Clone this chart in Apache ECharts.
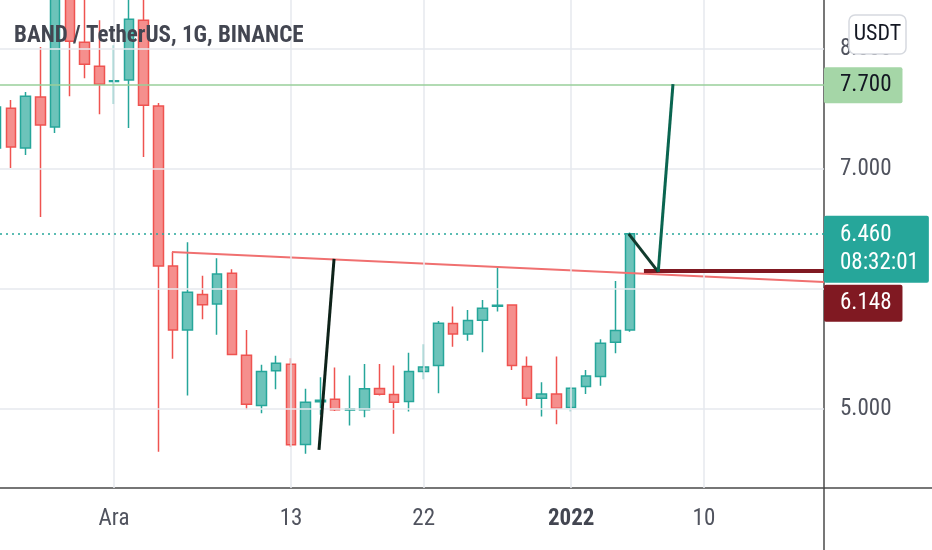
<!DOCTYPE html>
<html>
<head>
<meta charset="utf-8">
<script src="https://cdn.jsdelivr.net/npm/echarts@6/dist/echarts.min.js"></script>
<style>html,body{margin:0;padding:0;background:#fff}#c{width:932px;height:550px}</style>
</head>
<body>
<div id="c"></div>
<script>
// ---- data ----
const dates = ['2021-11-23','2021-11-24','2021-11-25','2021-11-26','2021-11-27','2021-11-28','2021-11-29','2021-11-30',
  '2021-12-01','2021-12-02','2021-12-03','2021-12-04','2021-12-05','2021-12-06','2021-12-07','2021-12-08','2021-12-09',
  '2021-12-10','2021-12-11','2021-12-12','2021-12-13','2021-12-14','2021-12-15','2021-12-16','2021-12-17','2021-12-18',
  '2021-12-19','2021-12-20','2021-12-21','2021-12-22','2021-12-23','2021-12-24','2021-12-25','2021-12-26','2021-12-27',
  '2021-12-28','2021-12-29','2021-12-30','2021-12-31','2022-01-01','2022-01-02','2022-01-03','2022-01-04','2022-01-05'];
const opens  = [7.175,7.508,7.175,7.600,7.350,8.600,8.058,7.858,7.730,7.742,8.242,7.525,6.192,5.658,5.953,5.875,6.131,
  5.447,5.028,5.317,5.372,4.703,5.060,5.081,4.990,4.992,5.169,5.119,5.061,5.311,5.361,5.711,5.625,5.739,5.855,
  5.867,5.353,5.089,5.125,5.011,5.186,5.269,5.556,5.658];
const closes = [7.517,7.183,7.608,7.367,8.550,8.067,7.875,7.708,7.737,8.250,7.533,6.192,5.658,5.973,5.869,6.125,5.453,
  5.039,5.311,5.381,4.700,5.056,5.072,4.992,5.000,5.167,5.122,5.056,5.311,5.350,5.714,5.625,5.736,5.839,5.865,
  5.361,5.089,5.125,5.006,5.172,5.275,5.547,5.653,6.460];
const lows   = [7.070,7.008,7.117,6.600,7.300,7.608,7.758,7.458,7.542,7.342,7.100,4.642,5.417,5.111,5.747,5.619,5.450,
  4.997,4.964,5.164,4.681,4.625,4.950,4.983,4.861,4.931,5.111,4.792,4.978,5.247,5.131,5.519,5.569,5.472,5.811,
  5.325,5.025,4.936,4.872,4.978,5.125,5.192,5.464,5.644];
const highs  = [7.620,7.575,7.642,8.017,8.700,8.800,8.500,8.242,8.033,8.500,8.500,7.550,6.308,6.389,6.111,6.256,6.164,
  5.658,5.367,5.444,5.422,5.167,5.264,5.344,5.278,5.375,5.375,5.361,5.469,5.539,5.733,5.853,5.825,5.908,6.192,
  5.870,5.436,5.222,5.436,5.180,5.325,5.581,6.067,6.470];

const tickDates  = ['2021-12-01','2021-12-13','2021-12-22','2022-01-01','2022-01-10'];
const tickLabels = ['Ara','13','22','2022','10'];
const priceGrid  = [5,6,7,8];
const priceLabels = [5,7,8];

// drawings: [day offset from 1 Dec 2021, price]
const trendLine  = [[3.93, 6.308],[48.14, 6.058]];
const blackLine  = [[13.9, 4.658],[14.92, 6.25]];
const pathA      = [[34.9, 6.46],[36.9, 6.142]];
const pathB      = [[36.9, 6.142],[37.9, 7.708]];
const targetLevel = 7.7;
const lastPrice   = 6.46;
const lastTime    = '08:32:01';
const stopLevel   = 6.148;
const stopStart   = 35.93;
const xMin = -7.73, xMax = 48.14, yMin = 4.34, yMax = 8.41;

// ---- build ----
const base = Date.UTC(2021, 11, 1);
function dayOf(s){ const p = s.split('-').map(Number); return (Date.UTC(p[0], p[1]-1, p[2]) - base) / 86400000; }
const xs = dates.map(dayOf);
const candles = xs.map((x,i)=>[x, opens[i], closes[i], lows[i], highs[i]]);
const tickX = tickDates.map(dayOf);
const FONT = '"Liberation Sans Narrow","Roboto Condensed","DejaVu Sans Condensed",Roboto,sans-serif';

const chart = echarts.init(document.getElementById('c'));
chart.setOption({
  animation: false,
  backgroundColor: '#ffffff',
  title: {
    text: 'BAND / TetherUS, 1G, BINANCE', left: 14, top: 23, padding: 0,
    textStyle: { fontFamily: FONT, fontWeight: 'bold', fontSize: 23, color: '#434651', lineHeight: 26 }
  },
  grid: { left: 0, right: 108, top: 0, bottom: 62, containLabel: false },
  xAxis: {
    type: 'value', min: xMin, max: xMax,
    axisLine: { show: true, onZero: false, lineStyle: { color: '#4a4a4a', width: 1.5 } },
    axisTick: { show: false },
    splitLine: { show: false },
    axisLabel: {
      customValues: tickX, margin: 20, fontFamily: FONT, fontSize: 23, color: '#50535e',
      formatter: function(v){ const i = tickX.indexOf(v); const t = i >= 0 ? tickLabels[i] : ''; return /^\d{4}$/.test(t) ? '{b|' + t + '}' : t; },
      rich: { b: { fontFamily: FONT, fontSize: 23, fontWeight: 'bold', color: '#434651' } }
    }
  },
  yAxis: {
    type: 'value', position: 'right', min: yMin, max: yMax, scale: true,
    axisLine: { show: true, onZero: false, lineStyle: { color: '#4a4a4a', width: 1.5 } },
    axisTick: { show: false },
    splitLine: { show: false },
    axisLabel: { customValues: priceLabels, margin: 16, fontFamily: FONT, fontSize: 23, color: '#50535e',
      formatter: function(v){ return v.toFixed(3); } }
  },
  graphic: [
    { type: 'line', shape: { x1: 824, y1: 488, x2: 824, y2: 550 }, style: { stroke: '#4a4a4a', lineWidth: 1.5 }, z: 10 },
    { type: 'line', shape: { x1: 824, y1: 488, x2: 932, y2: 488 }, style: { stroke: '#4a4a4a', lineWidth: 1.5 }, z: 10 },
    { type: 'rect', shape: { x: 849, y: 15, width: 57, height: 39, r: 6 }, style: { fill: '#ffffff', stroke: '#d6d9df', lineWidth: 1.5 }, z: 50 },
    { type: 'text', x: 877.5, y: 34.5, style: { text: 'USDT', font: '22px ' + FONT, fill: '#131722', align: 'center', verticalAlign: 'middle' }, z: 51 }
  ],
  series: [
    {
      type: 'line', data: [], z: 1, silent: true,
      markLine: {
        silent: true, symbol: 'none', animation: false,
        label: { show: false },
        lineStyle: { color: '#e6e9ee', width: 1.5, type: 'solid' },
        data: priceGrid.map(v => ({ yAxis: v })).concat(tickX.map(v => ({ xAxis: v })))
      }
    },
    {
      type: 'candlestick', data: candles, barWidth: 10, z: 3,
      itemStyle: {
        color: 'rgba(38,166,154,0.68)', color0: 'rgba(239,83,80,0.65)',
        borderColor: '#26a69a', borderColor0: '#ef5350', borderWidth: 1.5
      }
    },
    { type: 'line', data: trendLine, symbol: 'none', z: 4, lineStyle: { color: '#f07070', width: 2 } },
    { type: 'line', data: blackLine, symbol: 'none', z: 5, lineStyle: { color: '#0e2219', width: 3 } },
    { type: 'line', data: pathA, symbol: 'none', z: 5, lineStyle: { color: '#113a2d', width: 3 } },
    { type: 'line', data: pathB, symbol: 'none', z: 5, lineStyle: { color: '#0a6550', width: 3 } },
    {
      type: 'line', data: [], z: 6,
      markLine: {
        silent: true, symbol: 'none', animation: false,
        data: [
          { yAxis: targetLevel, lineStyle: { color: '#98cf9a', width: 1.5, type: 'solid' },
            label: { show: true, position: 'end', distance: 0, formatter: targetLevel.toFixed(3),
              backgroundColor: '#a5d6a7', color: '#131722', fontFamily: FONT, fontSize: 23, lineHeight: 26,
              padding: [5, 11, 5, 16], borderRadius: 2 } },
          { yAxis: lastPrice, lineStyle: { color: '#26a69a', width: 1.5, type: [2, 4] },
            label: { show: true, position: 'end', distance: 0, offset: [0, 15.5],
              formatter: lastPrice.toFixed(3) + '\n' + lastTime,
              backgroundColor: '#26a69a', color: '#ffffff', fontFamily: FONT, fontSize: 23, lineHeight: 28,
              padding: [3, 10, 8, 16], borderRadius: 2 } },
          [ { coord: [stopStart, stopLevel], lineStyle: { color: '#801922', width: 4, type: 'solid' },
              label: { show: true, position: 'end', distance: 0, offset: [0, 32], formatter: stopLevel.toFixed(3),
                backgroundColor: '#801922', color: '#ffffff', fontFamily: FONT, fontSize: 23, lineHeight: 27,
                padding: [5, 11, 5, 16], borderRadius: 2 } },
            { coord: [xMax, stopLevel] } ]
        ]
      }
    }
  ]
});
</script>
</body>
</html>
